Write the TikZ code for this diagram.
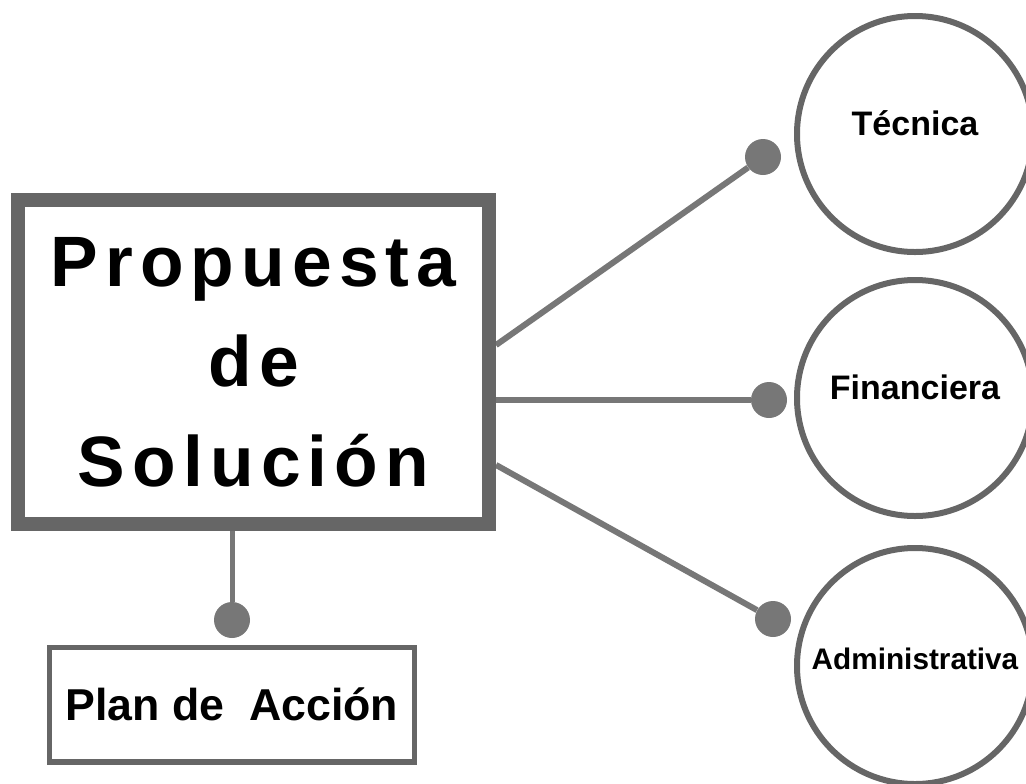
\documentclass[tikz,border=0pt]{standalone}
\usepackage{fontspec}
\setmainfont{Liberation Sans}
\newfontfamily\titlefont[LetterSpace=10]{Liberation Sans}
\usetikzlibrary{backgrounds}
\definecolor{boxgray}{HTML}{666666}
\definecolor{linegray}{HTML}{777777}
\begin{document}
\begin{tikzpicture}[x=0.75pt, y=-0.75pt,
  mainbox/.style={draw=boxgray, fill=white, line width=10.5pt, minimum width=353.25pt, minimum height=243pt, align=center, inner sep=0pt, font=\titlefont\bfseries\fontsize{53.5}{75}\selectfont},
  planbox/.style={draw=boxgray, fill=white, line width=4pt, minimum width=274pt, minimum height=86pt, font=\bfseries\fontsize{33.5}{40}\selectfont},
  area/.style={circle, draw=boxgray, line width=4.5pt, minimum size=177pt, inner sep=0pt, text height=0.75em, text depth=0.5em, font=\bfseries\fontsize{25.5}{30}\selectfont},
  dot/.style={circle, fill=linegray, inner sep=0pt, minimum size=27pt},
  conn/.style={draw=linegray, line width=4.5pt}]
\useasboundingbox (0,0) rectangle (1026,783);
\clip (0,0) rectangle (1026,783);

\node[mainbox] (main) at (253.5,362) {Propuesta\\de\\Solución};
\node[planbox] (plan) at (232,704.5) {Plan de~ Acción};

\node[area] (tecnica) at (915,134) {Técnica};
\node[area] (financiera) at (915,398) {Financiera};
\node[area, text depth=0.2em, font=\bfseries\fontsize{22.3}{26}\selectfont] (admin) at (915,666) {Administrativa};

\node[dot] (dotT) at (763,157) {};
\node[dot] (dotF) at (769,400) {};
\node[dot] (dotA) at (773,619) {};
\node[dot] (dotP) at (232,620) {};

\begin{scope}[on background layer]
\draw[conn] (main.4) -- (dotT);
\draw[conn] (main.east |- dotF) -- (dotF);
\draw[conn] (main.-23) -- (dotA);
\draw[conn, line width=3.75pt] (dotP |- main.south) -- (dotP);
\end{scope}
\end{tikzpicture}
\end{document}
